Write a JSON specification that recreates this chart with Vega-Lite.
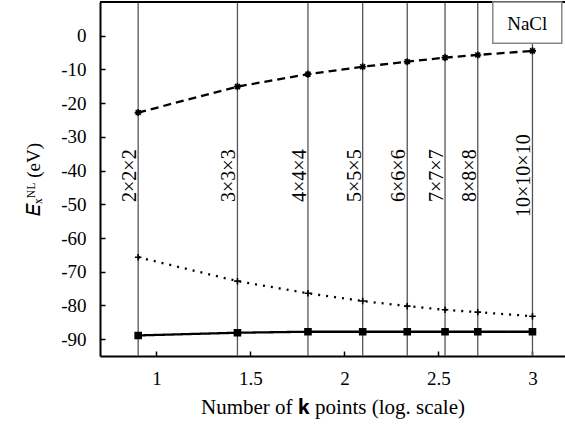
{
  "$schema": "https://vega.github.io/schema/vega-lite/v6.json",
  "width": 465,
  "height": 354,
  "autosize": {"type": "none"},
  "padding": {"left": 100, "top": 2, "right": 0, "bottom": 72},
  "background": "white",
  "config": {
    "view": {"stroke": null},
    "font": "Liberation Serif"
  },
  "datasets": {
    "grids": [
      {"grid": "2×2×2", "logk": 0.903},
      {"grid": "3×3×3", "logk": 1.431},
      {"grid": "4×4×4", "logk": 1.806},
      {"grid": "5×5×5", "logk": 2.097},
      {"grid": "6×6×6", "logk": 2.334},
      {"grid": "7×7×7", "logk": 2.535},
      {"grid": "8×8×8", "logk": 2.709},
      {"grid": "10×10×10", "logk": 3.0}
    ],
    "energies": [
      {"series": "upper", "logk": 0.903, "E": -22.8},
      {"series": "upper", "logk": 1.431, "E": -15.1},
      {"series": "upper", "logk": 1.806, "E": -11.4},
      {"series": "upper", "logk": 2.097, "E": -9.2},
      {"series": "upper", "logk": 2.334, "E": -7.7},
      {"series": "upper", "logk": 2.535, "E": -6.5},
      {"series": "upper", "logk": 2.709, "E": -5.7},
      {"series": "upper", "logk": 3.0, "E": -4.5},
      {"series": "middle", "logk": 0.903, "E": -65.7},
      {"series": "middle", "logk": 1.431, "E": -72.8},
      {"series": "middle", "logk": 1.806, "E": -76.4},
      {"series": "middle", "logk": 2.097, "E": -78.7},
      {"series": "middle", "logk": 2.334, "E": -80.2},
      {"series": "middle", "logk": 2.535, "E": -81.3},
      {"series": "middle", "logk": 2.709, "E": -82.0},
      {"series": "middle", "logk": 3.0, "E": -83.2},
      {"series": "lower", "logk": 0.903, "E": -88.9},
      {"series": "lower", "logk": 1.431, "E": -88.1},
      {"series": "lower", "logk": 1.806, "E": -87.8},
      {"series": "lower", "logk": 2.097, "E": -87.8},
      {"series": "lower", "logk": 2.334, "E": -87.8},
      {"series": "lower", "logk": 2.535, "E": -87.8},
      {"series": "lower", "logk": 2.709, "E": -87.8},
      {"series": "lower", "logk": 3.0, "E": -87.8}
    ],
    "one": [{"label": "NaCl"}]
  },
  "layer": [
    {
      "data": {"name": "grids"},
      "mark": {"type": "rule", "color": "#555", "strokeWidth": 1.3},
      "encoding": {
        "x": {
          "field": "logk", "type": "quantitative",
          "scale": {"domain": [0.7, 3.173], "nice": false, "zero": false},
          "axis": {
            "title": "Number of 𝐤 points (log. scale)",
            "values": [1, 1.5, 2, 2.5, 3],
            "tickCount": 10,
            "format": "~g",
            "grid": false,
            "labelFont": "Liberation Serif",
            "titleFont": "Liberation Serif",
            "labelColor": "black",
            "titleColor": "black",
            "titleFontWeight": "normal",
            "labelOverlap": false,
            "labelFontSize": 19,
            "titleFontSize": 21,
            "tickSize": -5,
            "tickColor": "black",
            "tickWidth": 1.5,
            "labelPadding": 18,
            "titlePadding": 8,
            "domainColor": "black",
            "domainWidth": 2
          }
        }
      }
    },
    {
      "data": {"name": "grids"},
      "mark": {"type": "text", "angle": 270, "align": "center", "baseline": "alphabetic", "dy": -2, "fontSize": 20, "font": "Liberation Serif", "color": "black"},
      "encoding": {
        "x": {"field": "logk", "type": "quantitative"},
        "y": {"datum": -41.5},
        "text": {"field": "grid"}
      }
    },
    {
      "data": {"name": "energies"},
      "mark": {"type": "line", "color": "black", "strokeWidth": 2.3},
      "encoding": {
        "x": {"field": "logk", "type": "quantitative"},
        "y": {
          "field": "E", "type": "quantitative",
          "scale": {"domain": [-95, 10], "nice": false, "zero": false},
          "axis": {
            "title": "𝐸ₓᴺᴸ (eV)",
            "values": [-90, -80, -70, -60, -50, -40, -30, -20, -10, 0],
            "tickCount": 12,
            "labelExpr": "replace(datum.label, '−', '-')",
            "grid": false,
            "labelFont": "Liberation Serif",
            "titleFont": "Liberation Serif",
            "labelColor": "black",
            "titleColor": "black",
            "titleFontWeight": "normal",
            "labelOverlap": false,
            "labelBaseline": "middle",
            "labelFontSize": 19,
            "titleFontSize": 19,
            "tickSize": -5,
            "tickColor": "black",
            "tickWidth": 1.5,
            "labelPadding": 19,
            "titlePadding": 17,
            "domainColor": "black",
            "domainWidth": 2
          }
        },
        "detail": {"field": "series"},
        "strokeDash": {
          "field": "series", "type": "nominal",
          "scale": {"domain": ["upper", "middle", "lower"], "range": [[8, 5], [2, 6], [1, 0]]},
          "legend": null
        }
      }
    },
    {
      "data": {"name": "energies"},
      "mark": {"type": "point", "filled": true, "color": "black", "stroke": "black", "strokeWidth": 1.6, "opacity": 1},
      "encoding": {
        "x": {"field": "logk", "type": "quantitative"},
        "y": {"field": "E", "type": "quantitative"},
        "shape": {
          "field": "series", "type": "nominal",
          "scale": {"domain": ["upper", "middle", "lower"], "range": ["M-1,0L1,0M0,-1L0,1M-0.7,-0.7L0.7,0.7M-0.7,0.7L0.7,-0.7", "M-1,0L1,0M0,-1L0,1", "square"]},
          "legend": null
        },
        "size": {
          "field": "series", "type": "nominal",
          "scale": {"domain": ["upper", "middle", "lower"], "range": [50, 36, 45]},
          "legend": null
        }
      }
    },
    {
      "data": {"name": "one"},
      "mark": {"type": "rule", "color": "black", "strokeWidth": 2},
      "encoding": {"y": {"datum": 10}}
    },
    {
      "data": {"name": "one"},
      "mark": {"type": "rect", "fill": "white", "stroke": "#888", "strokeWidth": 1.5},
      "encoding": {
        "x": {"datum": 2.789},
        "x2": {"datum": 3.156},
        "y": {"datum": 10},
        "y2": {"datum": -2.25}
      }
    },
    {
      "data": {"name": "one"},
      "mark": {"type": "text", "fontSize": 19, "font": "Liberation Serif", "color": "black", "align": "center", "baseline": "middle"},
      "encoding": {
        "x": {"datum": 2.972},
        "y": {"datum": 3.6},
        "text": {"field": "label"}
      }
    }
  ]
}
